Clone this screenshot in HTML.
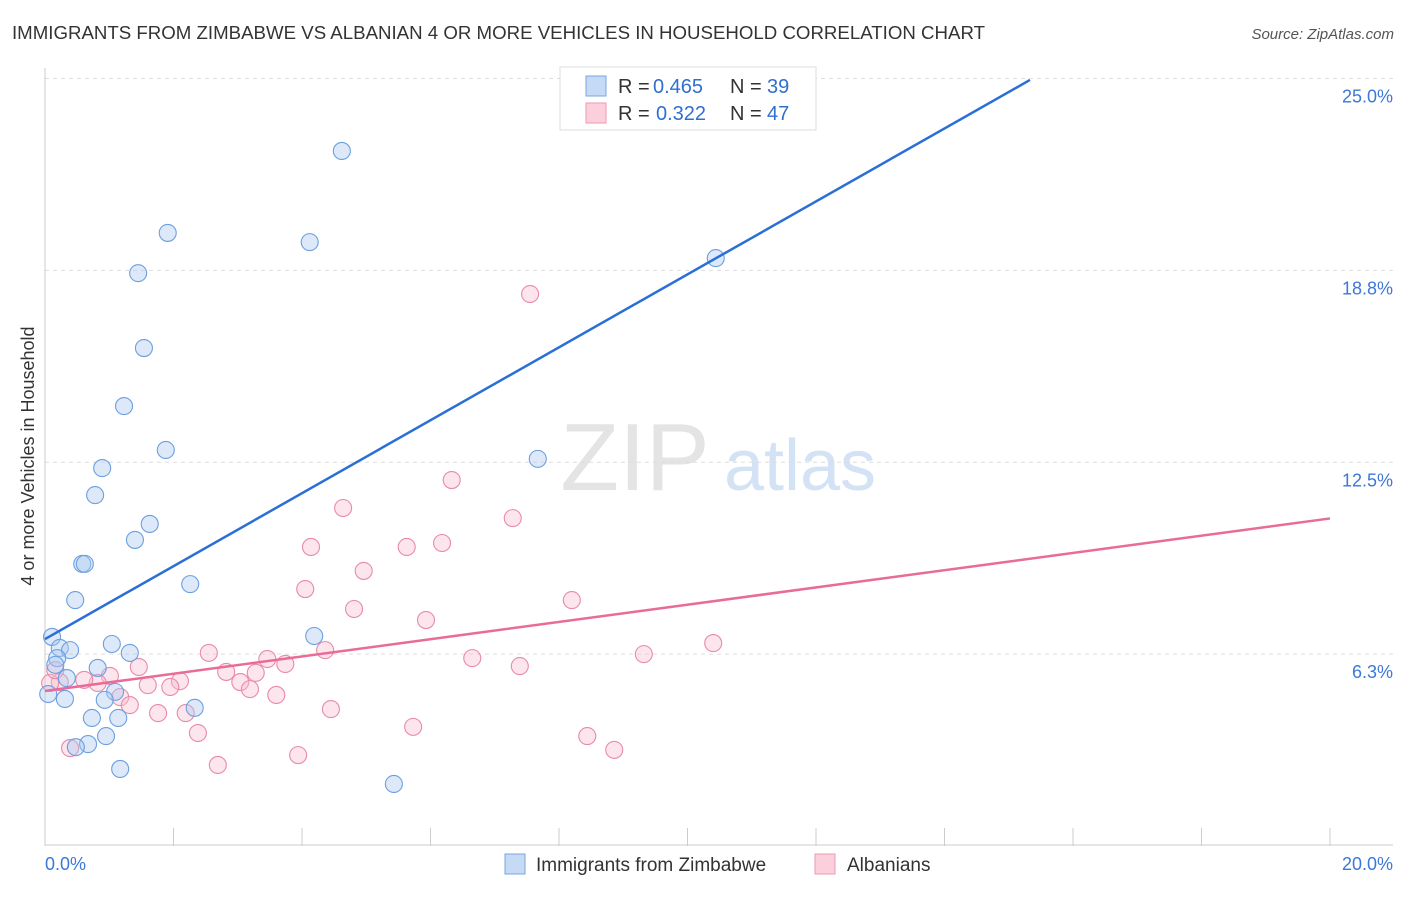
<!DOCTYPE html>
<html><head><meta charset="utf-8"><style>
body{margin:0;background:#fff;font-family:"Liberation Sans",sans-serif;}
svg text{font-family:"Liberation Sans",sans-serif;}
</style></head><body>
<svg width="1406" height="892" viewBox="0 0 1406 892">
<text x="12" y="39" font-size="18" fill="#333" textLength="973" lengthAdjust="spacingAndGlyphs">IMMIGRANTS FROM ZIMBABWE VS ALBANIAN 4 OR MORE VEHICLES IN HOUSEHOLD CORRELATION CHART</text>
<text x="1394" y="39" font-size="15" fill="#555" text-anchor="end" font-style="italic">Source: ZipAtlas.com</text>
<g>
<text x="635" y="490" font-size="96" fill="#e4e4e4" text-anchor="middle" font-family="Liberation Serif,serif">ZIP</text>
<text x="800" y="490" font-size="72" fill="#d3e2f5" text-anchor="middle">atlas</text>
</g>
<g id="grid"></g>
<g id="axes"></g>
<g id="marks"></g>
<text x="34" y="456" font-size="18" fill="#333" text-anchor="middle" transform="rotate(-90 34 456)">4 or more Vehicles in Household</text>
<g>
<rect x="560" y="67" width="256" height="63" fill="#fff" stroke="#ddd"/>
<rect x="586" y="76" width="20" height="20" fill="#c5daf5" stroke="#7aa7e0"/>
<rect x="586" y="103" width="20" height="20" fill="#fbd0dc" stroke="#ee9ab2"/>
<text x="618" y="93" font-size="20" fill="#333">R =</text>
<text x="653" y="93" font-size="20" fill="#2f6fd0">0.465</text>
<text x="730" y="93" font-size="20" fill="#333">N =</text>
<text x="767" y="93" font-size="20" fill="#2f6fd0">39</text>
<text x="618" y="120" font-size="20" fill="#333">R =</text>
<text x="656" y="120" font-size="20" fill="#2f6fd0">0.322</text>
<text x="730" y="120" font-size="20" fill="#333">N =</text>
<text x="767" y="120" font-size="20" fill="#2f6fd0">47</text>
</g>
<g>
<rect x="505" y="854" width="20" height="20" fill="#c5daf5" stroke="#7aa7e0"/>
<text x="536" y="871" font-size="19" fill="#333">Immigrants from Zimbabwe</text>
<rect x="815" y="854" width="20" height="20" fill="#fbd0dc" stroke="#ee9ab2"/>
<text x="847" y="871" font-size="19" fill="#333">Albanians</text>
</g>
</svg>
<script>
const yTicks=[6.25,12.5,18.75,25];
const yTickLabels=["6.3%","12.5%","18.8%","25.0%"];
const xTickLabels=["0.0%","20.0%"];
const blueX=[1.91,4.62,4.12,1.45,1.54,1.23,1.88,0.89,0.78,1.63,1.40,0.58,0.62,0.47,2.26,7.67,10.44,0.11,0.23,0.39,0.19,0.16,0.82,1.04,1.32,4.19,0.34,1.09,0.93,0.31,0.05,2.33,0.73,1.14,0.95,0.67,0.48,1.17,5.43];
const blueY=[19.97,22.64,19.67,18.66,16.22,14.33,12.90,12.31,11.43,10.49,9.97,9.19,9.19,8.01,8.53,12.61,19.15,6.81,6.45,6.38,6.12,5.90,5.80,6.58,6.29,6.84,5.47,5.02,4.76,4.79,4.95,4.50,4.17,4.17,3.58,3.32,3.22,2.51,2.02];
const pinkX=[7.55,6.33,4.64,7.28,4.14,6.18,5.63,4.96,4.05,8.20,4.81,5.93,10.40,9.32,6.65,7.39,2.55,1.46,1.01,0.82,0.61,0.23,2.10,1.60,1.95,2.82,3.04,3.28,3.46,3.74,3.19,3.60,4.36,1.17,1.32,1.76,2.19,4.45,2.38,5.73,8.44,8.86,3.94,2.69,0.39,0.08,0.16];
const pinkY=[17.98,11.92,11.01,10.68,9.74,9.87,9.74,8.96,8.37,8.01,7.72,7.36,6.61,6.25,6.12,5.86,6.29,5.83,5.54,5.31,5.41,5.34,5.37,5.24,5.18,5.67,5.34,5.64,6.09,5.93,5.11,4.92,6.38,4.85,4.59,4.33,4.33,4.46,3.68,3.88,3.58,3.13,2.96,2.64,3.19,5.31,5.73];
const blueTrend=[6.74,1.188,15.33];
const pinkTrend=[5.05,0.281,20];
const NS="http://www.w3.org/2000/svg";
const xs=v=>45+v*64.25, ys=v=>846-v*30.7;
function mk(t,a,p){const e=document.createElementNS(NS,t);for(const k in a)e.setAttribute(k,a[k]);p.appendChild(e);return e;}
const grid=document.getElementById('grid'),axes=document.getElementById('axes'),marks=document.getElementById('marks');
yTicks.forEach((v,i)=>{
 const l=mk('line',{x1:45,x2:1393,y1:ys(v),y2:ys(v),stroke:'#ddd','stroke-dasharray':'4,4'},grid);
 
 
 const t=mk('text',{x:1393,y:ys(v)+24,'font-size':18,fill:'#3b78d8','text-anchor':'end'},axes);
 t.textContent=yTickLabels[i];
 
 
});
mk('line',{x1:45,x2:45,y1:68,y2:846,stroke:'#ccc'},axes);
mk('line',{x1:45,x2:1393,y1:845,y2:845,stroke:'#ccc'},axes);
for(let i=0;i<=10;i++){const tk=mk('line',{x1:xs(i*2),x2:xs(i*2),y1:828,y2:846,stroke:'#ccc'},axes);
 
 }
[[0,'start',45],[20,'end',1393]].forEach((d,i)=>{const t=mk('text',{x:d[2],y:870,'font-size':18,fill:'#3b78d8','text-anchor':d[1]},axes);t.textContent=xTickLabels[i];
 
 });
function pts(X,Y,fill,stroke,name){X.forEach((x,i)=>{const c=mk('circle',{cx:xs(x),cy:ys(Y[i]),r:8.5,fill:fill,'fill-opacity':0.4,stroke:stroke,'stroke-width':1.1},marks);
 
 });}
pts(pinkX,pinkY,'#f8bdd0','#e98aa8','point-albanians');
pts(blueX,blueY,'#a9c8f0','#6c9fdf','point-zimbabwe');
function trend(T,col,name){const l=mk('line',{x1:xs(0),y1:ys(T[0]),x2:xs(T[2]),y2:ys(T[0]+T[1]*T[2]),stroke:col,'stroke-width':2.5},marks);
 
 }
trend(blueTrend,'#2a6fd6','trend-line-zimbabwe');
trend(pinkTrend,'#e86b98','trend-line-albanians');
</script>
</body></html>
